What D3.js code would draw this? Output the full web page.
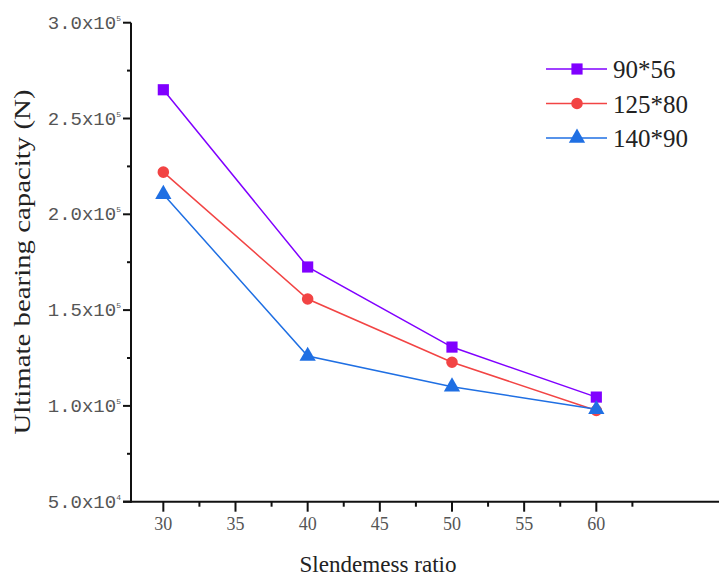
<html>
<head>
	<script src="https://d3js.org/d3.v7.min.js"></script>
	<style>
		body { margin: 0; background: #fff; }
		svg { display: block; }
		text { font-family: "Liberation Serif", "Times New Roman", serif; }
	</style>
</head>
<body>
	<svg></svg>
</body>
<script type="text/javascript">
	// slenderness ratio on x, ultimate bearing capacity (N) on y
	var ratios = [30, 40, 50, 60];
	var seriesNames = ["90*56", "125*80", "140*90"];
	var cap9056 = [265000, 172500, 130700, 104600];
	var cap12580 = [222000, 155800, 122800, 97600];
	var cap14090 = [210500, 126000, 110000, 98200];
	var xTicks = [30, 35, 40, 45, 50, 55, 60];
	var xMinorTicks = [32.5, 37.5, 42.5, 47.5, 52.5, 57.5, 62.5];
	var yTicks = [50000, 100000, 150000, 200000, 250000, 300000];
	var yMinorTicks = [75000, 125000, 175000, 225000, 275000];

	var colors = ["#8000ff", "#f24444", "#1f6fe3"];
	var symbols = [d3.symbolSquare, d3.symbolCircle, d3.symbolTriangle];
	var symbolSizes = [125, 105, 115];
	var allSeries = [cap9056, cap12580, cap14090];

	var width = 719, height = 576;
	var margin = {"left": 131, "top": 22.7, "bottom": 501.7};

	var svg = d3.select("svg")
		.attr("width", width)
		.attr("height", height);

	var x = d3.scaleLinear().domain([27.76, 68.5]).range([margin.left, width]);
	var y = d3.scaleLinear().domain([50000, 300000]).range([margin.bottom, margin.top]);

	// x axis
	var xAxis = svg.append("g")
		.attr("transform", "translate(0," + margin.bottom + ")");
	xAxis.append("line")
		.attr("x1", x.range()[0] - 8).attr("x2", width)
		.attr("stroke", "#111").attr("stroke-width", 2);
	xAxis.selectAll(".major").data(xTicks).enter().append("line")
		.attr("x1", function(d){ return x(d); }).attr("x2", function(d){ return x(d); })
		.attr("y1", 0).attr("y2", 10)
		.attr("stroke", "#111").attr("stroke-width", 2);
	xAxis.selectAll(".minor").data(xMinorTicks).enter().append("line")
		.attr("x1", function(d){ return x(d); }).attr("x2", function(d){ return x(d); })
		.attr("y1", 0).attr("y2", 5)
		.attr("stroke", "#111").attr("stroke-width", 2);
	xAxis.selectAll(".lbl").data(xTicks).enter().append("text")
		.attr("x", function(d){ return x(d); })
		.attr("y", 28)
		.attr("text-anchor", "middle")
		.attr("fill", "#555")
		.style("font-size", "18px")
		.text(function(d){ return d; });

	// y axis
	var yAxis = svg.append("g")
		.attr("transform", "translate(" + margin.left + ",0)");
	yAxis.append("line")
		.attr("y1", margin.top).attr("y2", margin.bottom + 1)
		.attr("stroke", "#111").attr("stroke-width", 2);
	yAxis.selectAll(".major").data(yTicks).enter().append("line")
		.attr("y1", function(d){ return y(d); }).attr("y2", function(d){ return y(d); })
		.attr("x1", -8).attr("x2", 0)
		.attr("stroke", "#111").attr("stroke-width", 2);
	yAxis.selectAll(".minor").data(yMinorTicks).enter().append("line")
		.attr("y1", function(d){ return y(d); }).attr("y2", function(d){ return y(d); })
		.attr("x1", -4).attr("x2", 0)
		.attr("stroke", "#111").attr("stroke-width", 2);
	var yLbl = yAxis.selectAll(".lbl").data(yTicks).enter().append("text")
		.attr("x", -10)
		.attr("y", function(d){ return y(d) + 6; })
		.attr("text-anchor", "end")
		.attr("fill", "#555")
		.style("font-family", "'Liberation Mono', monospace")
		.style("font-size", "19px");
	yLbl.append("tspan")
		.text(function(d){
			var e = Math.floor(Math.log10(d));
			return (d / Math.pow(10, e)).toFixed(1) + "x10";
		});
	yLbl.append("tspan")
		.attr("dy", -8)
		.style("font-size", "8px")
		.text(function(d){ return Math.floor(Math.log10(d)); });

	// axis titles
	svg.append("text")
		.attr("x", 378).attr("y", 572)
		.attr("text-anchor", "middle")
		.attr("fill", "#222")
		.attr("textLength", 157)
		.attr("lengthAdjust", "spacingAndGlyphs")
		.style("font-size", "24px")
		.text("Slendemess ratio");
	svg.append("text")
		.attr("transform", "translate(30,262) rotate(-90)")
		.attr("text-anchor", "middle")
		.attr("fill", "#222")
		.attr("textLength", 345)
		.attr("lengthAdjust", "spacingAndGlyphs")
		.style("font-size", "23px")
		.text("Ultimate bearing capacity (N)");

	// series
	var line = d3.line()
		.x(function(d, i){ return x(ratios[i]); })
		.y(function(d){ return y(d); });

	allSeries.forEach(function(vals, s){
		svg.append("path")
			.attr("d", line(vals))
			.attr("fill", "none")
			.attr("stroke", colors[s])
			.attr("stroke-width", 1.5);
		svg.selectAll(".pt" + s).data(vals).enter().append("path")
			.attr("transform", function(d, i){ return "translate(" + x(ratios[i]) + "," + y(d) + ")"; })
			.attr("d", d3.symbol().type(symbols[s]).size(symbolSizes[s]))
			.attr("fill", colors[s]);
	});

	// legend
	var legend = svg.append("g").attr("transform", "translate(546,69)");
	seriesNames.forEach(function(name, s){
		var row = legend.append("g").attr("transform", "translate(0," + (s * 34.5) + ")");
		row.append("line")
			.attr("x1", 0).attr("x2", 61)
			.attr("stroke", colors[s]).attr("stroke-width", 1.5);
		row.append("path")
			.attr("transform", "translate(31,0)")
			.attr("d", d3.symbol().type(symbols[s]).size(symbolSizes[s]))
			.attr("fill", colors[s]);
		row.append("text")
			.attr("x", 67).attr("y", 9)
			.attr("fill", "#222")
			.style("font-size", "25px")
			.text(name);
	});
</script>
</html>
